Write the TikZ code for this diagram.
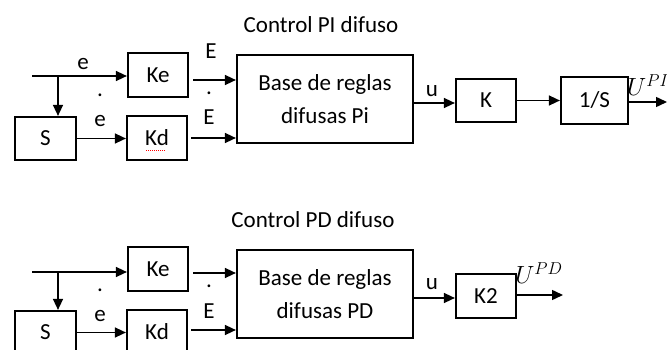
\documentclass[tikz,border=0pt]{standalone}
\usepackage{fontspec}
\setmainfont{Carlito}
\usetikzlibrary{arrows.meta}
\tikzset{
  blk/.style={draw, line width=2.2pt, inner sep=0pt, font=\fontsize{23}{33}\selectfont, align=center},
  arr/.style={line width=1.5pt, -{Triangle[length=11pt,width=10pt]}},
  lbl/.style={inner sep=0pt, font=\fontsize{23}{27}\selectfont},
  ttl/.style={inner sep=0pt, font=\fontsize{23}{27}\selectfont},
}
\begin{document}
\begin{tikzpicture}[x=1pt,y=-1pt]
\clip (0,0) rectangle (667,350);
\fill[white] (0,0) rectangle (667,350);

% ---------- Top: Control PI difuso ----------
\node[ttl] (t1) at (321,25) {Control PI difuso};
\node[blk, minimum width=61pt, minimum height=43pt] (S1) at (45.5,138.5) {S};
\node[blk, minimum width=60pt, minimum height=44pt] (Ke1) at (158,75) {Ke};
\node[blk, minimum width=60pt, minimum height=44pt] (Kd1) at (157,138) {Kd};
\node[blk, minimum width=176pt, minimum height=88pt] (B1) at (325,99) {Base de reglas\\difusas Pi};
\node[blk, minimum width=60pt, minimum height=43pt] (K1) at (486,100.5) {K};
\node[blk, minimum width=67pt, minimum height=47pt] (I1) at (594.5,100.5) {1/S};
\draw[red, densely dotted, line width=1pt] (146,151) -- (166,151);

\coordinate (in1) at (32,76);
\coordinate (br1) at (58,76);
\draw[arr] (in1) -- (in1 -| Ke1.west);
\draw[arr] (br1) -- (br1 |- S1.north);
\draw[arr] (S1.east) -- (S1.east -| Kd1.west);
\coordinate (a1) at ([shift={(4,5)}]Ke1.east);
\draw[arr] (a1) -- (a1 -| B1.west);
\coordinate (a2) at ([shift={(3,0)}]Kd1.east);
\draw[arr] (a2) -- (a2 -| B1.west);
\coordinate (a3) at ([shift={(-2,4)}]B1.east);
\draw[arr] (a3) -- (a3 -| K1.west);
\draw[arr] (K1.east) -- (I1.west);
\coordinate (o1) at (667,102);
\draw[arr] (I1.east |- o1) -- (o1);

\node[lbl] (e1) at (83,64) {e};
\node[lbl] (d1) at (100,95) {.};
\node[lbl] (e2) at (100,121) {e};
\node[lbl] (E1) at (211,51) {E};
\node[lbl] (d2) at (209,93) {.};
\node[lbl] (E2) at (209,117) {E};
\node[lbl] (u1) at (432,91) {u};
\node[lbl] (U1) at (648,85) {$U^{PI}$};

% ---------- Bottom: Control PD difuso ----------
\node[ttl] (t2) at (313,220) {Control PD difuso};
\node[blk, minimum width=61pt, minimum height=43pt] (S2) at (45.5,332.5) {S};
\node[blk, minimum width=60pt, minimum height=44pt] (Ke2) at (158,269) {Ke};
\node[blk, minimum width=60pt, minimum height=44pt] (Kd2) at (157,332) {Kd};
\node[blk, minimum width=176pt, minimum height=88pt] (B2) at (325,294) {Base de reglas\\difusas PD};
\node[blk, minimum width=60pt, minimum height=44pt] (K2) at (486,296) {K2};

\coordinate (in2) at (32,272);
\coordinate (br2) at (58,272);
\draw[arr] (in2) -- (in2 -| Ke2.west);
\draw[arr] (br2) -- (br2 |- S2.north);
\draw[arr] (S2.east) -- (S2.east -| Kd2.west);
\coordinate (b1) at ([shift={(4,4)}]Ke2.east);
\draw[arr] (b1) -- (b1 -| B2.west);
\coordinate (b2) at ([shift={(3,-2)}]Kd2.east);
\draw[arr] (b2) -- (b2 -| B2.west);
\coordinate (b3) at ([shift={(-2,4)}]B2.east);
\draw[arr] (b3) -- (b3 -| K2.west);
\coordinate (o2) at (563,295);
\draw[arr] (K2.east |- o2) -- (o2);

\node[lbl] (d3) at (100,290) {.};
\node[lbl] (e3) at (100,316) {e};
\node[lbl] (d4) at (209,286) {.};
\node[lbl] (E3) at (209,311) {E};
\node[lbl] (u2) at (432,284) {u};
\node[lbl] (U2) at (539,273) {$U^{PD}$};
\end{tikzpicture}
\end{document}
